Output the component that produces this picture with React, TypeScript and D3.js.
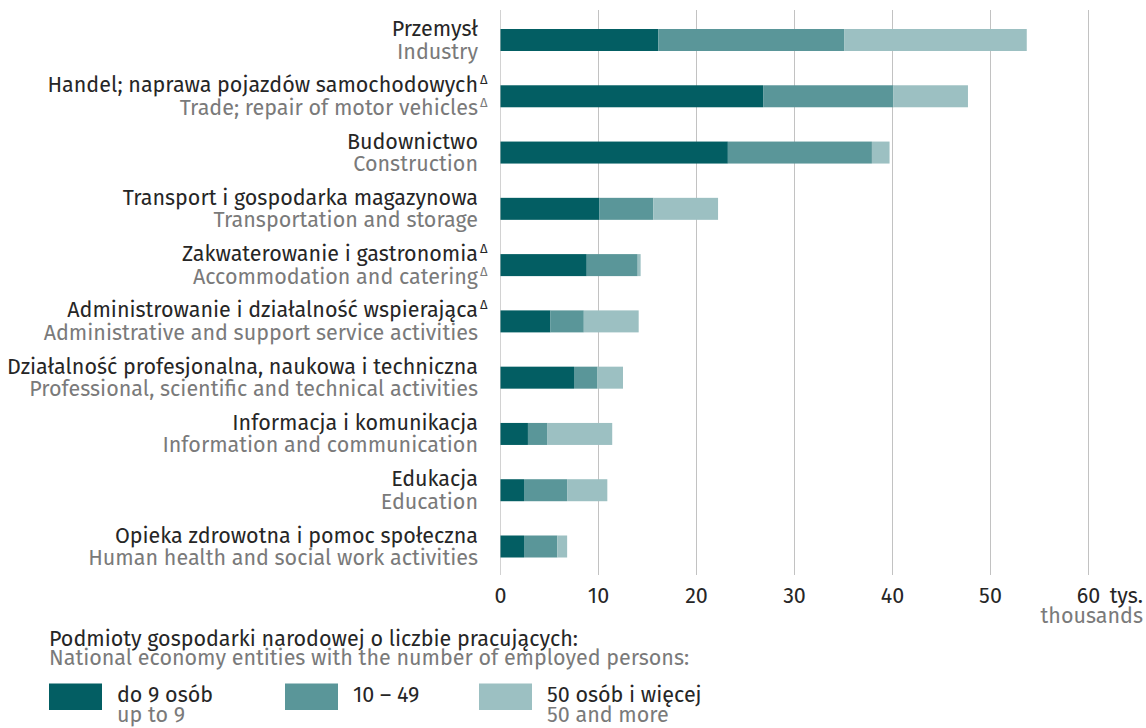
import React from "react";
import * as d3 from "d3";

const categoriesPL = [
  "Przemysł",
  "Handel; naprawa pojazdów samochodowych",
  "Budownictwo",
  "Transport i gospodarka magazynowa",
  "Zakwaterowanie i gastronomia",
  "Administrowanie i działalność wspierająca",
  "Działalność profesjonalna, naukowa i techniczna",
  "Informacja i komunikacja",
  "Edukacja",
  "Opieka zdrowotna i pomoc społeczna",
];
const categoriesEN = [
  "Industry",
  "Trade; repair of motor vehicles",
  "Construction",
  "Transportation and storage",
  "Accommodation and catering",
  "Administrative and support service activities",
  "Professional, scientific and technical activities",
  "Information and communication",
  "Education",
  "Human health and social work activities",
];
const deltaPL = [false, true, false, false, true, true, false, false, false, false];
const deltaEN = [false, true, false, false, true, false, false, false, false, false];

const upTo9 = [16.1, 26.8, 23.2, 10.1, 8.8, 5.1, 7.5, 2.8, 2.4, 2.4];
const from10to49 = [19.0, 13.3, 14.7, 5.5, 5.2, 3.4, 2.4, 2.0, 4.4, 3.4];
const from50 = [18.6, 7.6, 1.8, 6.6, 0.3, 5.6, 2.6, 6.6, 4.1, 1.0];

const seriesKeys = ["upTo9", "from10to49", "from50"];
const seriesPL = ["do 9 osób", "10 – 49", "50 osób i więcej"];
const seriesEN = ["up to 9", "", "50 and more"];
const colors = ["#035e63", "#5a9699", "#9cc0c2"];

const tickValues = [0, 10, 20, 30, 40, 50, 60];
const unitPL = "tys.";
const unitEN = "thousands";
const legendTitlePL = "Podmioty gospodarki narodowej o liczbie pracujących:";
const legendTitleEN = "National economy entities with the number of employed persons:";

const W = 1146;
const H = 728;
const FONT = "'Fira Sans', 'Open Sans', sans-serif";
const FS = 21.5;
const DARK = "#262626";
const GRAY = "#7a7a7a";

export default function App() {
  const rows = categoriesPL.map((c, i) => ({
    idx: i,
    upTo9: upTo9[i],
    from10to49: from10to49[i],
    from50: from50[i],
  }));
  const stack = d3.stack<any>().keys(seriesKeys)(rows);

  const x = d3.scaleLinear().domain([0, 60]).range([500.5, 1088.5]);
  const y = d3
    .scalePoint<number>()
    .domain(categoriesPL.map((_, i) => i))
    .range([40, 546.5]);
  const barH = 22;
  const labelX = 478;

  const legendX = [49, 285, 479];

  return (
    <svg
      width={W}
      height={H}
      style={{ position: "absolute", left: 0, top: 0, display: "block", background: "#fff" }}
      fontFamily={FONT}
    >
      {/* grid */}
      {tickValues.map((t) => (
        <line
          key={"g" + t}
          x1={x(t)}
          x2={x(t)}
          y1={10}
          y2={575}
          stroke={t === 0 ? "#d2d2d2" : "#c2c2c2"}
          strokeWidth={1}
        />
      ))}
      {/* bars */}
      {stack.map((s, si) => (
        <g key={s.key} fill={colors[si]}>
          {s.map((d: any, i: number) => (
            <rect
              key={i}
              x={x(d[0])}
              y={(y(i) as number) - barH / 2}
              width={Math.max(0, x(d[1]) - x(d[0]))}
              height={barH}
            />
          ))}
        </g>
      ))}
      {/* category labels */}
      {categoriesPL.map((c, i) => {
        const cy = y(i) as number;
        return (
          <g key={"l" + i} fontSize={FS}>
            <text x={labelX} y={cy - 4} textAnchor="end" fill={DARK}>
              {c}
            </text>
            {deltaPL[i] && (
              <text x={labelX + 2} y={cy - 12} fontSize={13} fill={DARK}>
                Δ
              </text>
            )}
            <text x={labelX} y={cy + 18.5} textAnchor="end" fill={GRAY}>
              {categoriesEN[i]}
            </text>
            {deltaEN[i] && (
              <text x={labelX + 2} y={cy + 10.5} fontSize={13} fill={GRAY}>
                Δ
              </text>
            )}
          </g>
        );
      })}
      {/* axis labels */}
      {tickValues.map((t) => (
        <text key={"t" + t} x={x(t)} y={602.5} textAnchor="middle" fontSize={FS} fill={DARK}>
          {t}
        </text>
      ))}
      <text x={1143} y={602.5} textAnchor="end" fontSize={FS} fill={DARK}>
        {unitPL}
      </text>
      <text x={1143} y={623} textAnchor="end" fontSize={FS} fill={GRAY}>
        {unitEN}
      </text>
      {/* legend */}
      <text x={49} y={646} fontSize={FS} fill={DARK}>
        {legendTitlePL}
      </text>
      <text x={49} y={665} fontSize={FS} fill={GRAY}>
        {legendTitleEN}
      </text>
      {seriesPL.map((s, i) => (
        <g key={"lg" + i}>
          <rect x={legendX[i]} y={683.5} width={53} height={26.5} fill={colors[i]} />
          <text x={legendX[i] + 68} y={702} fontSize={FS} fill={DARK}>
            {s}
          </text>
          {seriesEN[i] && (
            <text x={legendX[i] + 68} y={722} fontSize={FS} fill={GRAY}>
              {seriesEN[i]}
            </text>
          )}
        </g>
      ))}
    </svg>
  );
}
